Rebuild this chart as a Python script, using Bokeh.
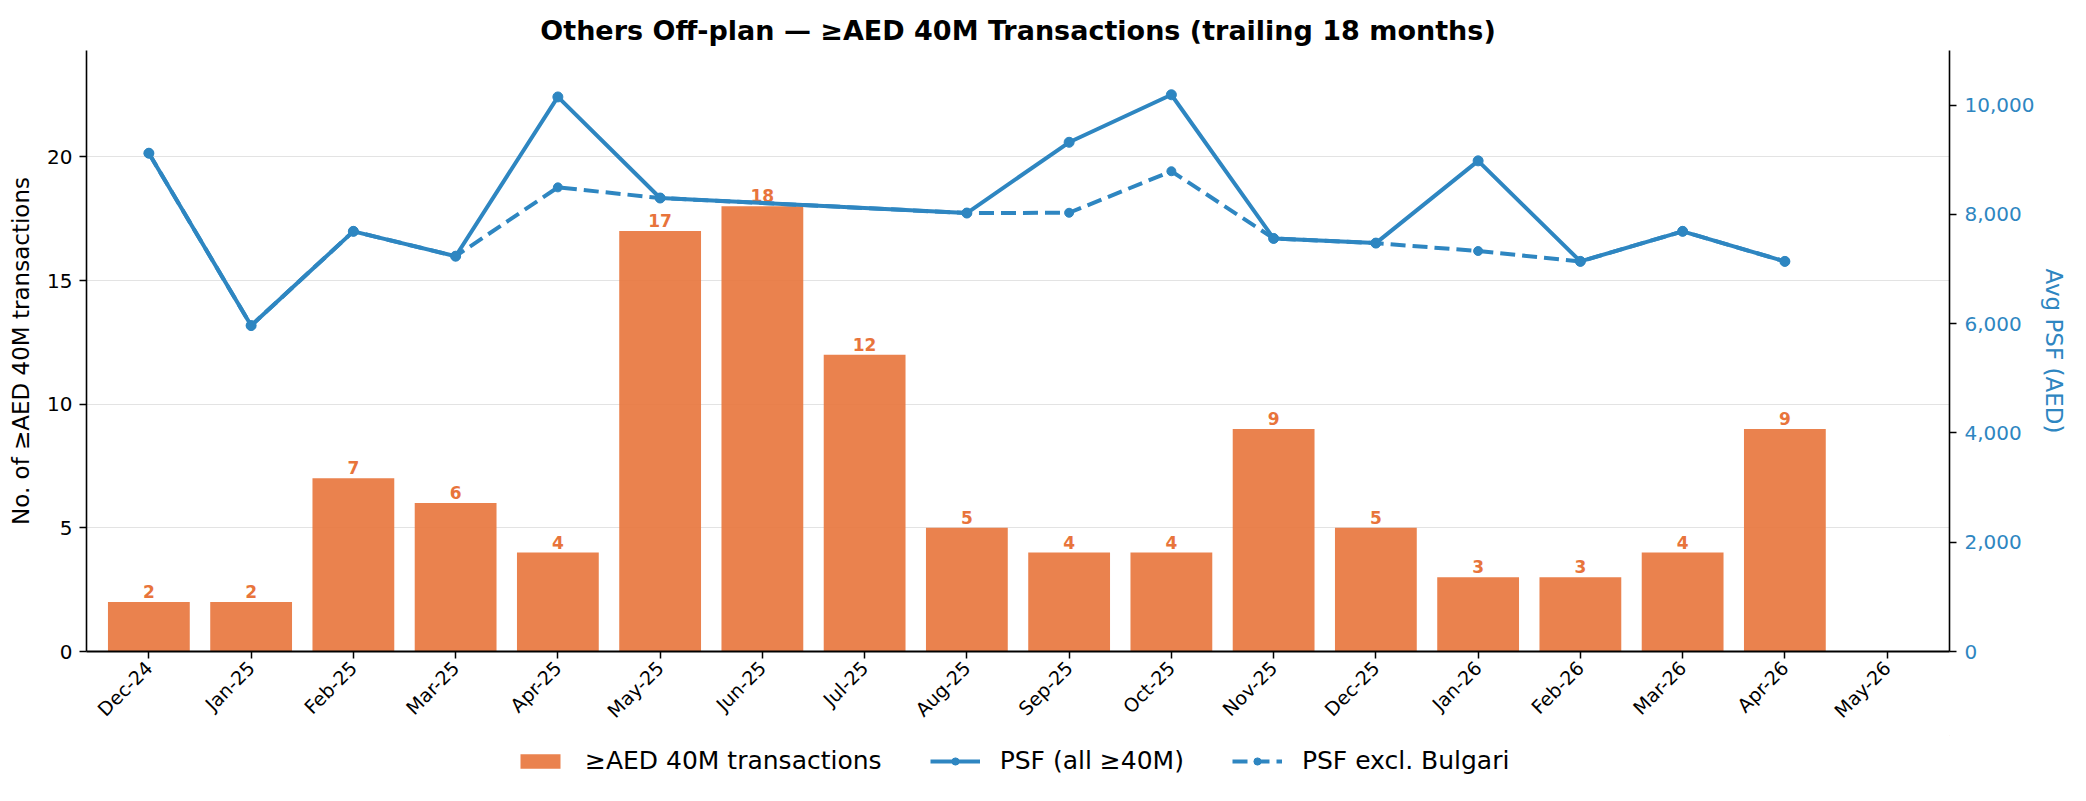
import math
from bokeh.plotting import figure
from bokeh.layouts import column
from bokeh.models import (Range1d, LinearAxis, FixedTicker, NumeralTickFormatter,
                          Legend, LegendItem, ColumnDataSource)
from bokeh.core.properties import value
from bokeh.embed import file_html
from bokeh.resources import INLINE

months = ["Dec-24", "Jan-25", "Feb-25", "Mar-25", "Apr-25", "May-25", "Jun-25", "Jul-25",
          "Aug-25", "Sep-25", "Oct-25", "Nov-25", "Dec-25", "Jan-26", "Feb-26", "Mar-26",
          "Apr-26", "May-26"]
counts = [2, 2, 7, 6, 4, 17, 18, 12, 5, 4, 4, 9, 5, 3, 3, 4, 9, 0]
psf_all = [9120, 5965, 7690, 7235, 10150, 8300, None, None, 8025, 9320, 10190, 7560,
           7475, 8980, 7140, 7690, 7140, None]
psf_excl = [9120, 5965, 7690, 7235, 8495, 8300, None, None, 8025, 8030, 8790, 7560,
            7475, 7330, 7140, 7690, 7140, None]

left_ticks = [0, 5, 10, 15, 20]
right_ticks = [0, 2000, 4000, 6000, 8000, 10000]

FONT = "DejaVu Sans"
ORANGE = "#E8743B"
BLUE = "#2E86C1"

xs = list(range(len(months)))

p = figure(width=2070, height=735, output_backend="svg", toolbar_location=None,
           x_range=Range1d(-0.61, len(months) - 0.39), y_range=Range1d(0, 24.3),
           min_border_left=86, min_border_right=119, min_border_top=50, min_border_bottom=84)
p.extra_y_ranges = {"psf": Range1d(0, 11000)}

p.title.text = "Others Off-plan \u2014 \u2265AED 40M Transactions (trailing 18 months)"
p.title.align = "center"
p.title.text_font = FONT
p.title.text_font_size = "27px"
p.title.text_font_style = "bold"
p.title.text_color = "black"

p.outline_line_color = None
p.xgrid.grid_line_color = None
p.ygrid.grid_line_color = "#e3e3e3"
p.ygrid.grid_line_width = 1.2
p.ygrid.ticker = FixedTicker(ticks=left_ticks)

# x axis
xa = p.xaxis[0]
xa.ticker = FixedTicker(ticks=xs)
xa.major_label_overrides = {i: m for i, m in enumerate(months)}
xa.major_label_orientation = math.pi / 4
xa.major_label_text_font = FONT
xa.major_label_text_font_size = "19px"
xa.major_label_text_color = "black"
xa.major_tick_in = 0
xa.major_tick_out = 7
xa.minor_tick_line_color = None
xa.axis_line_width = 2
xa.axis_line_color = "black"
xa.major_tick_line_width = 1.5
xa.major_label_standoff = 6

# left y axis
ya = p.yaxis[0]
ya.ticker = FixedTicker(ticks=left_ticks)
ya.axis_label = "No. of \u2265AED 40M transactions"
ya.axis_label_text_font = FONT
ya.axis_label_text_font_size = "23px"
ya.axis_label_text_font_style = "normal"
ya.axis_label_text_color = "black"
ya.major_label_text_font = FONT
ya.major_label_text_font_size = "20px"
ya.major_label_text_color = "black"
ya.major_tick_in = 0
ya.major_tick_out = 7
ya.minor_tick_line_color = None
ya.axis_line_width = 1.6
ya.major_tick_line_width = 1.5
ya.major_label_standoff = 7
ya.axis_label_standoff = 10

# right y axis
ra = LinearAxis(y_range_name="psf", ticker=FixedTicker(ticks=right_ticks))
ra.formatter = NumeralTickFormatter(format="0,0")
ra.axis_label = "Avg PSF (AED)"
ra.axis_label_text_font = FONT
ra.axis_label_text_font_size = "23px"
ra.axis_label_text_font_style = "normal"
ra.axis_label_text_color = BLUE
ra.major_label_text_font = FONT
ra.major_label_text_font_size = "20px"
ra.major_label_text_color = BLUE
ra.major_tick_in = 0
ra.major_tick_out = 7
ra.minor_tick_line_color = None
ra.axis_line_width = 1.6
ra.major_tick_line_width = 1.5
ra.major_label_standoff = 8
ra.axis_label_standoff = 4
p.add_layout(ra, "right")

# bars
bar_src = ColumnDataSource(dict(x=xs, top=counts))
p.vbar(x="x", top="top", width=0.8, source=bar_src, fill_color=ORANGE,
       fill_alpha=0.9, line_color=None)

lab_x = [x for x, c in zip(xs, counts) if c > 0]
lab_y = [c for c in counts if c > 0]
lab_t = [str(c) for c in counts if c > 0]
p.text(x=lab_x, y=lab_y, text=lab_t, text_font=value(FONT), text_font_size="17px",
       text_font_style="bold", text_color=ORANGE, text_align="center",
       text_baseline="bottom", y_offset=-4)

# lines
ax_ = [x for x, v in zip(xs, psf_all) if v is not None]
ay_ = [v for v in psf_all if v is not None]
ex_ = [x for x, v in zip(xs, psf_excl) if v is not None]
ey_ = [v for v in psf_excl if v is not None]

p.line(ex_, ey_, y_range_name="psf", line_color=BLUE, line_width=4, line_dash="15 7")
p.scatter(ex_, ey_, y_range_name="psf", size=9, fill_color=BLUE, line_color=BLUE)
p.line(ax_, ay_, y_range_name="psf", line_color=BLUE, line_width=4)
p.scatter(ax_, ay_, y_range_name="psf", size=10, fill_color=BLUE, line_color=BLUE)

# legend strip below the chart (proxy renderers placed outside the visible range)
lg = figure(width=2070, height=50, output_backend="svg", toolbar_location=None,
            x_range=Range1d(0, 1), y_range=Range1d(0, 1),
            x_axis_type=None, y_axis_type=None,
            min_border_left=0, min_border_right=0, min_border_top=0, min_border_bottom=0)
lg.grid.visible = False
lg.outline_line_color = None
r_bar = lg.vbar(x=[5], top=[5], bottom=[4], width=0.8, fill_color=ORANGE, fill_alpha=0.9,
                line_color=None)
r_l1 = lg.line(x=[5, 6], y=[5, 5], line_color=BLUE, line_width=4)
r_s1 = lg.scatter(x=[5], y=[5], size=10, fill_color=BLUE, line_color=BLUE)
r_l2 = lg.line(x=[5, 6], y=[5, 5], line_color=BLUE, line_width=4, line_dash="15 7")
r_s2 = lg.scatter(x=[5], y=[5], size=9, fill_color=BLUE, line_color=BLUE)

legend = Legend(items=[
    LegendItem(label="\u2265AED 40M transactions", renderers=[r_bar]),
    LegendItem(label="PSF (all \u226540M)", renderers=[r_l1, r_s1]),
    LegendItem(label="PSF excl. Bulgari", renderers=[r_l2, r_s2]),
], orientation="horizontal", location=(429, 10))
legend.border_line_color = None
legend.background_fill_alpha = 0
legend.label_text_font = FONT
legend.label_text_font_size = "25px"
legend.label_text_color = "black"
legend.glyph_width = 50
legend.glyph_height = 18
legend.label_standoff = 20
legend.spacing = 48
legend.margin = 0
legend.padding = 4
lg.add_layout(legend)

layout = column(p, lg, spacing=0)
open("out.html", "w").write(file_html(layout, INLINE))
